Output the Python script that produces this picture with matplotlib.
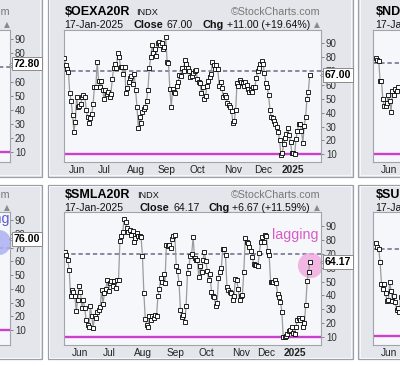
import matplotlib
matplotlib.use("Agg")
import matplotlib.pyplot as plt
from matplotlib.patches import Rectangle

plt.rcParams['font.family'] = ['Liberation Sans', 'DejaVu Sans']

# ---------------- data ----------------
month_labels = ['Jun', 'Jul', 'Aug', 'Sep', 'Oct', 'Nov', 'Dec', '2025']
y_ticks = [10, 20, 30, 40, 50, 60, 70, 80, 90]
overbought = 70
oversold = 10

oex_values = [79.2, 74.4, 71.5, 69.6, 54.0, 48.4, 38.3, 26.3, 33.0, 51.6, 43.9, 44.8, 46.0, 51.0, 52.8,
              51.6, 42.0, 36.7, 32.8, 36.0, 38.8, 46.3, 58.8, 58.3, 76.8, 62.8, 58.8, 62.8, 56.4, 49.9,
              56.4, 53.2, 55.2, 51.0, 53.5, 64.3, 72.0, 74.9, 72.0, 82.8, 79.9, 73.2, 73.2, 67.9, 73.2,
              54.0, 57.6, 62.4, 65.3, 66.5, 60.5, 67.9, 56.4, 44.4, 28.7, 36.7, 32.8, 40.8, 42.4, 43.9,
              48.4, 56.4, 72.0, 79.9, 88.8, 82.8, 85.7, 80.9, 90.0, 91.0, 88.6, 90.5, 85.7, 87.6, 94.3,
              76.8, 75.6, 56.8, 43.9, 57.0, 55.2, 54.0, 59.2, 62.4, 67.2, 66.5, 72.0, 70.3, 78.0, 75.1,
              72.0, 70.3, 65.5, 66.5, 68.9, 70.0, 70.8, 64.3, 62.4, 61.2, 54.0, 58.3, 49.9, 52.0, 59.2,
              63.1, 65.5, 67.9, 76.8, 74.4, 71.3, 74.4, 71.3, 59.2, 62.4, 57.6, 51.0, 52.8, 51.6, 46.8,
              45.6, 44.4, 41.5, 32.3, 34.3, 42.0, 61.7, 59.2, 63.6, 62.4, 61.7, 59.2, 62.4, 60.0, 56.8,
              55.2, 56.4, 55.2, 58.3, 58.3, 64.8, 70.0, 72.0, 75.1, 77.3, 74.9, 68.9, 61.7, 58.3, 52.8,
              42.0, 36.7, 36.0, 34.3, 31.9, 29.5, 26.3, 20.3, 9.5, 10.7, 17.2, 21.5, 24.7, 28.7, 23.9,
              19.1, 10.7, 11.2, 10.0, 20.8, 27.0, 31.9, 31.9, 26.8, 18.0, 30.4, 36.7, 49.6, 55.2, 67.0]
oex_month_idx = [9.5, 29, 52, 74.5, 97, 123.3, 145, 167]

sml_values = [71.2, 69.5, 65.4, 58.2, 39.4, 43.7, 42.3, 39.4, 28.6, 37.0, 47.1, 42.3, 31.0, 36.5, 31.0,
              22.0, 18.9, 17.2, 32.2, 25.0, 16.5, 25.0, 23.7, 27.8, 29.3, 31.7, 43.7, 34.1, 41.8, 44.7,
              51.4, 43.0, 49.0, 50.2, 47.1, 50.7, 45.4, 51.4, 51.0, 79.2, 83.3, 85.7, 95.3, 92.9, 88.8,
              85.7, 87.1, 84.0, 86.4, 78.4, 81.6, 85.2, 83.3, 82.8, 82.3, 68.8, 41.8, 23.0, 18.9, 17.2,
              25.4, 22.5, 25.4, 23.7, 26.1, 25.0, 39.4, 44.7, 52.7, 49.5, 55.8, 49.0, 76.7, 75.5, 76.7,
              74.3, 80.8, 82.8, 83.5, 61.6, 57.5, 49.0, 29.3, 24.2, 26.1, 20.6, 32.2, 56.3, 61.1, 68.8,
              70.2, 82.3, 67.1, 65.4, 65.4, 53.4, 61.1, 56.7, 65.4, 71.7, 65.2, 58.0, 51.2, 55.5, 42.8,
              39.4, 38.9, 32.4, 34.3, 52.4, 57.2, 59.6, 73.4, 73.4, 69.3, 46.4, 44.0, 42.8, 42.0, 36.7,
              39.4, 51.7, 51.2, 44.5, 36.7, 39.6, 40.4, 57.2, 81.3, 78.9, 77.7, 75.3, 72.4, 68.1, 62.8,
              62.3, 62.0, 61.3, 70.5, 78.9, 82.5, 78.9, 83.7, 83.0, 72.4, 69.3, 50.0, 50.0, 50.0, 51.2,
              48.8, 41.1, 38.7, 35.5, 28.3, 10.0, 10.2, 10.7, 12.2, 14.0, 15.0, 17.5, 13.1, 12.2, 17.0,
              22.3, 23.5, 22.3, 23.5, 17.0, 20.4, 33.1, 50.7, 57.2, 64.17]
sml_month_idx = [10.5, 31.5, 55.25, 78.5, 100.25, 125, 142.8, 163.25]

ndx_values = [73.3, 72.2, 71.5, 58.3, 58.3, 46.3, 41.9, 41.9, 44.1, 49.2, 45.4, 38.2, 52.0, 49.2, 52.9,
              52.0, 54.3]
sux_values = [74.0, 71.2, 69.8, 60.7, 46.0, 42.4, 46.0, 39.4, 34.3, 34.7, 47.3, 41.0, 34.3, 37.5, 33.6,
              27.8, 29.0, 26.6, 36.8]

oex_close, oex_chg, oex_pct = '67.00', '+11.00', '+19.64%'
sml_close, sml_chg, sml_pct = '64.17', '+6.67', '+11.59%'
left_top_last, left_bot_last = 72.80, 76.00

# ---------------- layout helpers ----------------
W, H = 400, 366
fig = plt.figure(figsize=(W / 100, H / 100), dpi=100)
fig.patch.set_facecolor('white')

PANEL_FC = '#e4e6eb'
PANEL_EC = '#9aa0a8'
PLOT_FC = '#f6f7fb'
LINE_C = '#9c9c9c'


def frac_rect(x0, y0, x1, y1):
    return [x0 / W, 1 - y1 / H, (x1 - x0) / W, (y1 - y0) / H]


def ftext(x, y, s, **kw):
    kw.setdefault('va', 'baseline')
    fig.text(x / W, 1 - y / H, s, **kw)


def panel(x0, y0, x1, y1):
    fig.add_artist(Rectangle((x0 / W, 1 - y1 / H), (x1 - x0) / W, (y1 - y0) / H,
                             transform=fig.transFigure, fc=PANEL_FC, ec=PANEL_EC, lw=0.9, zorder=-2))
    fig.add_artist(Rectangle(((x0 + 1.3) / W, 1 - (y1 - 1.3) / H), (x1 - x0 - 2.6) / W, (y1 - y0 - 2.6) / H,
                             transform=fig.transFigure, fc='none', ec='#fbfbfd', lw=0.6, zorder=-1))


for (px0, px1) in [(-5, 41.7), (48, 352.7), (358.3, 405)]:
    panel(px0, -5, px1, 176.7)
    panel(px0, 184.5, px1, 359)

AXW = 257.0


def make_ax(x0, y0, x1, y1, ylim):
    ax = fig.add_axes(frac_rect(x0, y0, x1, y1))
    ax.set_facecolor(PLOT_FC)
    for s in ax.spines.values():
        s.set_color('#a0a5ad')
        s.set_linewidth(0.8)
    ax.set_ylim(*ylim)
    ax.yaxis.tick_right()
    ax.set_yticks(y_ticks)
    ax.set_yticklabels([str(t) for t in y_ticks])
    ax.tick_params(axis='y', direction='out', length=2.5, width=0.6, color='#777777', pad=1,
                   labelsize=7, labelcolor='#333333')
    ax.tick_params(axis='x', length=0, pad=2.2, labelsize=7.3, labelcolor='#222222')
    ax.axhline(overbought, color='#7f7f99', lw=1.3, ls=(0, (2.4, 1.6)), zorder=1)
    ax.axhline(oversold, color='#cc3fcc', lw=1.7, zorder=1)
    return ax


def draw_series(ax, values):
    ax.plot(range(len(values)), values, color=LINE_C, lw=0.9, marker='s', ms=2.2,
            mfc='white', mec='black', mew=0.6, zorder=3)


def set_months(ax, idx):
    ax.set_xticks(idx)
    ax.set_xticklabels(month_labels)
    ax.get_xticklabels()[-1].set_fontweight('bold')


def value_box(ax, val, text):
    ax.plot([1 + 1.6 / AXW], [val], marker='<', ms=4.2, mfc='white', mec='#8a8a8a', mew=0.6,
            transform=ax.get_yaxis_transform(), clip_on=False, zorder=9)
    ax.text(1 + 3.6 / AXW, val, text, transform=ax.get_yaxis_transform(), ha='left', va='center',
            fontsize=7.6, fontweight='bold', color='black', zorder=10, clip_on=False,
            bbox=dict(boxstyle='square,pad=0.18', fc='white', ec='#8a8a8a', lw=0.7))


def set_x(ax, n, first_px, last_px, left_px, right_px):
    dx = (last_px - first_px) / (n - 1)
    ax.set_xlim(-(first_px - left_px) / dx, (n - 1) + (right_px - last_px) / dx)
    return dx


# ---------------- middle top: $OEXA20R ----------------
ax1 = make_ax(64, 30, 321, 162.3, (4.2, 99.6))
draw_series(ax1, oex_values)
dx_top = set_x(ax1, len(oex_values), 64.3, 309.7, 64, 321)
set_months(ax1, oex_month_idx)
value_box(ax1, float(oex_close), oex_close)

# ---------------- middle bottom: $SMLA20R ----------------
ax2 = make_ax(64, 212.3, 321, 344.7, (4.4, 100.1))
ax2.scatter([0.957], [0.604], s=330, color='#f2a6dc', alpha=0.8, lw=0, transform=ax2.transAxes, zorder=2)
draw_series(ax2, sml_values)
set_x(ax2, len(sml_values), 65.0, 310.0, 64, 321)
set_months(ax2, sml_month_idx)
value_box(ax2, float(sml_close), sml_close)
ax2.text(0.992, 0.831, 'lagging', transform=ax2.transAxes, ha='right', va='center',
         fontsize=10.3, color='#d95bc5', zorder=5)

# ---------------- left partial panels ----------------
axL1 = make_ax(-247, 30, 10, 162.3, (2.7, 96.6))
axL1.set_xlim(0, 1)
axL1.set_xticks([])
value_box(axL1, left_top_last, f'{left_top_last:.2f}')

axL2 = make_ax(-247, 212.3, 10, 344.7, (-0.6, 95.6))
axL2.set_xlim(0, 1)
axL2.set_xticks([])
axL2.scatter([0.953], [0.776], s=330, color='#aeb0f2', alpha=0.85, lw=0, transform=axL2.transAxes, zorder=2)
axL2.text(0.998, 0.952, 'lagging', transform=axL2.transAxes, ha='right', va='center',
          fontsize=10.3, color='#5a5ad8', zorder=5)
value_box(axL2, left_bot_last, f'{left_bot_last:.2f}')

# ---------------- right partial panels ----------------
axR1 = make_ax(373, 30, 630, 162.3, (4.7, 92.0))
draw_series(axR1, ndx_values)
axR1.set_xlim(-(376 - 373) / dx_top, (630 - 376) / dx_top)
set_months(axR1, oex_month_idx)

axR2 = make_ax(373, 212.3, 630, 344.7, (4.2, 94.9))
draw_series(axR2, sux_values)
axR2.set_xlim(-(376 - 373) / dx_top, (630 - 376) / dx_top)
set_months(axR2, oex_month_idx)

# ---------------- header texts ----------------
TITLE = dict(fontsize=9, fontweight='bold', color='black')
SMALL = dict(fontsize=6.6, color='#111111')
LINE2 = dict(fontsize=7.6, color='#111111')
LINE2B = dict(fontsize=7.8, fontweight='bold', color='#111111')
CR = dict(fontsize=7.7, color='#777777', ha='right')
TRI = dict(fontsize=5.5, color='#8a8a8a', ha='right', family=['DejaVu Sans'])

# middle top
ftext(64.3, 15, r'\$OEXA20R', **TITLE)
ftext(136, 15, 'INDX', **SMALL)
ftext(320.7, 15, '\u00a9StockCharts.com', **CR)
ftext(64.3, 28.3, '17-Jan-2025', **LINE2)
ftext(133.3, 28.3, 'Close', **LINE2B)
ftext(166.7, 28.3, oex_close, **LINE2)
ftext(202.7, 28.3, 'Chg', **LINE2B)
ftext(226.7, 28.3, f'{oex_chg} ({oex_pct})', **LINE2)
ftext(320, 27.5, '\u25b2', **TRI)

# middle bottom
ftext(64.3, 198, r'\$SMLA20R', **TITLE)
ftext(136.7, 198, 'INDX', **SMALL)
ftext(320.7, 198, '\u00a9StockCharts.com', **CR)
ftext(64.3, 210.8, '17-Jan-2025', **LINE2)
ftext(140, 210.8, 'Close', **LINE2B)
ftext(173.3, 210.8, sml_close, **LINE2)
ftext(208.3, 210.8, 'Chg', **LINE2B)
ftext(232.3, 210.8, f'{sml_chg} ({sml_pct})', **LINE2)
ftext(320, 210, '\u25b2', **TRI)

# left partial
ftext(10.5, 15, '\u00a9StockCharts.com', **CR)
ftext(9.5, 27.5, '\u25b2', **TRI)
ftext(10.5, 198, '\u00a9StockCharts.com', **CR)
ftext(9.5, 210, '\u25b2', **TRI)

# right partial
ftext(375.7, 15, r'\$ND', **TITLE)
ftext(375.7, 28.3, '17-Jan-2025', **LINE2)
ftext(375.7, 198, r'\$SU', **TITLE)
ftext(375.7, 210.8, '17-Jan-2025', **LINE2)

fig.savefig('out.png', dpi=100, facecolor='white')
